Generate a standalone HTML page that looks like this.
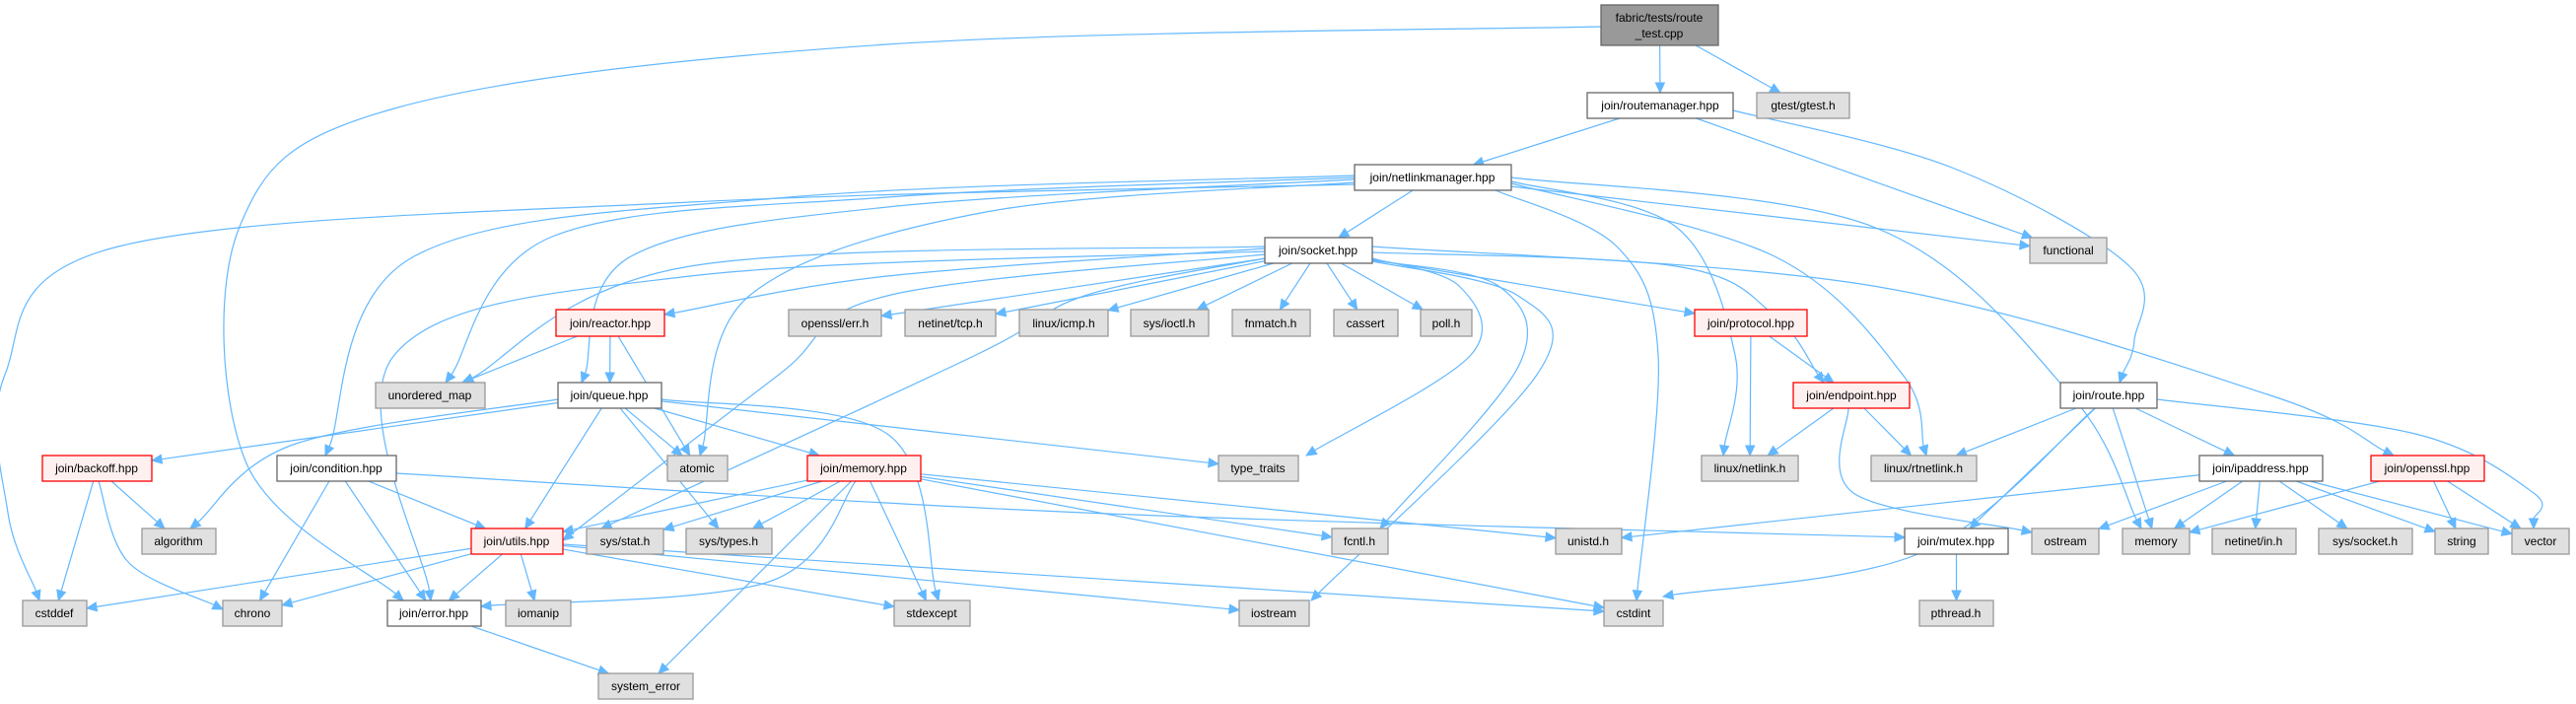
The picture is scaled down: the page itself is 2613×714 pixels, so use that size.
<!DOCTYPE html>
<html><head><meta charset="utf-8">
<style>
html,body{margin:0;padding:0;background:#fff;}
svg{display:block;}
text{font-family:"Liberation Sans",Arial,sans-serif;font-size:12px;fill:#000;}
.g rect{fill:#e0e0e0;stroke:#999;stroke-width:1.3;}
.w rect{fill:#fff;stroke:#666;stroke-width:1.3;}
.r rect{fill:#fff0f0;stroke:#f00;stroke-width:1.3;}
.d rect{fill:#999;stroke:#666;stroke-width:1.3;}
</style></head><body>
<svg id="s" width="2613" height="714" viewBox="0 0 2613 714" xmlns="http://www.w3.org/2000/svg">
<g id="edges"></g>
<g id="nodes">
<g class="d"><rect x="1624" y="5" width="119" height="41"/><text x="1683" y="22" text-anchor="middle">fabric/tests/route</text><text x="1683" y="38" text-anchor="middle">_test.cpp</text></g>
<g class="w"><rect x="1610" y="94" width="148" height="26"/><text x="1684" y="111" text-anchor="middle">join/routemanager.hpp</text></g>
<g class="g"><rect x="1782" y="94" width="94" height="26"/><text x="1829" y="111" text-anchor="middle">gtest/gtest.h</text></g>
<g class="w"><rect x="1374" y="167" width="159" height="26"/><text x="1453" y="184" text-anchor="middle">join/netlinkmanager.hpp</text></g>
<g class="w"><rect x="1283" y="241" width="109" height="26"/><text x="1337" y="258" text-anchor="middle">join/socket.hpp</text></g>
<g class="g"><rect x="2059" y="241" width="78" height="26"/><text x="2098" y="258" text-anchor="middle">functional</text></g>
<g class="r"><rect x="564" y="314" width="110" height="27"/><text x="619" y="332" text-anchor="middle">join/reactor.hpp</text></g>
<g class="g"><rect x="800" y="314" width="94" height="27"/><text x="847" y="332" text-anchor="middle">openssl/err.h</text></g>
<g class="g"><rect x="918" y="314" width="92" height="27"/><text x="964" y="332" text-anchor="middle">netinet/tcp.h</text></g>
<g class="g"><rect x="1034" y="314" width="90" height="27"/><text x="1079" y="332" text-anchor="middle">linux/icmp.h</text></g>
<g class="g"><rect x="1147" y="314" width="79" height="27"/><text x="1186" y="332" text-anchor="middle">sys/ioctl.h</text></g>
<g class="g"><rect x="1250" y="314" width="79" height="27"/><text x="1289" y="332" text-anchor="middle">fnmatch.h</text></g>
<g class="g"><rect x="1353" y="314" width="65" height="27"/><text x="1385" y="332" text-anchor="middle">cassert</text></g>
<g class="g"><rect x="1441" y="314" width="52" height="27"/><text x="1467" y="332" text-anchor="middle">poll.h</text></g>
<g class="r"><rect x="1719" y="314" width="114" height="27"/><text x="1776" y="332" text-anchor="middle">join/protocol.hpp</text></g>
<g class="g"><rect x="381" y="388" width="111" height="26"/><text x="436" y="405" text-anchor="middle">unordered_map</text></g>
<g class="w"><rect x="566" y="388" width="105" height="26"/><text x="618" y="405" text-anchor="middle">join/queue.hpp</text></g>
<g class="r"><rect x="1819" y="388" width="118" height="26"/><text x="1878" y="405" text-anchor="middle">join/endpoint.hpp</text></g>
<g class="w"><rect x="2090" y="388" width="98" height="26"/><text x="2139" y="405" text-anchor="middle">join/route.hpp</text></g>
<g class="r"><rect x="43" y="462" width="111" height="26"/><text x="98" y="479" text-anchor="middle">join/backoff.hpp</text></g>
<g class="w"><rect x="281" y="462" width="121" height="26"/><text x="341" y="479" text-anchor="middle">join/condition.hpp</text></g>
<g class="g"><rect x="677" y="462" width="61" height="26"/><text x="707" y="479" text-anchor="middle">atomic</text></g>
<g class="r"><rect x="819" y="462" width="115" height="26"/><text x="876" y="479" text-anchor="middle">join/memory.hpp</text></g>
<g class="g"><rect x="1236" y="462" width="81" height="26"/><text x="1276" y="479" text-anchor="middle">type_traits</text></g>
<g class="g"><rect x="1726" y="462" width="98" height="26"/><text x="1775" y="479" text-anchor="middle">linux/netlink.h</text></g>
<g class="g"><rect x="1898" y="462" width="107" height="26"/><text x="1951" y="479" text-anchor="middle">linux/rtnetlink.h</text></g>
<g class="w"><rect x="2231" y="462" width="125" height="26"/><text x="2293" y="479" text-anchor="middle">join/ipaddress.hpp</text></g>
<g class="r"><rect x="2405" y="462" width="115" height="26"/><text x="2462" y="479" text-anchor="middle">join/openssl.hpp</text></g>
<g class="g"><rect x="144" y="536" width="75" height="26"/><text x="181" y="553" text-anchor="middle">algorithm</text></g>
<g class="r"><rect x="478" y="536" width="93" height="26"/><text x="524" y="553" text-anchor="middle">join/utils.hpp</text></g>
<g class="g"><rect x="595" y="536" width="78" height="26"/><text x="634" y="553" text-anchor="middle">sys/stat.h</text></g>
<g class="g"><rect x="696" y="536" width="87" height="26"/><text x="739" y="553" text-anchor="middle">sys/types.h</text></g>
<g class="g"><rect x="1351" y="536" width="57" height="26"/><text x="1379" y="553" text-anchor="middle">fcntl.h</text></g>
<g class="g"><rect x="1578" y="536" width="67" height="26"/><text x="1611" y="553" text-anchor="middle">unistd.h</text></g>
<g class="w"><rect x="1932" y="536" width="105" height="26"/><text x="1984" y="553" text-anchor="middle">join/mutex.hpp</text></g>
<g class="g"><rect x="2061" y="536" width="68" height="26"/><text x="2095" y="553" text-anchor="middle">ostream</text></g>
<g class="g"><rect x="2153" y="536" width="68" height="26"/><text x="2187" y="553" text-anchor="middle">memory</text></g>
<g class="g"><rect x="2244" y="536" width="85" height="26"/><text x="2286" y="553" text-anchor="middle">netinet/in.h</text></g>
<g class="g"><rect x="2352" y="536" width="95" height="26"/><text x="2399" y="553" text-anchor="middle">sys/socket.h</text></g>
<g class="g"><rect x="2470" y="536" width="54" height="26"/><text x="2497" y="553" text-anchor="middle">string</text></g>
<g class="g"><rect x="2548" y="536" width="58" height="26"/><text x="2577" y="553" text-anchor="middle">vector</text></g>
<g class="g"><rect x="23" y="609" width="65" height="26"/><text x="55" y="626" text-anchor="middle">cstddef</text></g>
<g class="g"><rect x="226" y="609" width="60" height="26"/><text x="256" y="626" text-anchor="middle">chrono</text></g>
<g class="w"><rect x="393" y="609" width="95" height="26"/><text x="440" y="626" text-anchor="middle">join/error.hpp</text></g>
<g class="g"><rect x="513" y="609" width="66" height="26"/><text x="546" y="626" text-anchor="middle">iomanip</text></g>
<g class="g"><rect x="907" y="609" width="77" height="26"/><text x="945" y="626" text-anchor="middle">stdexcept</text></g>
<g class="g"><rect x="1257" y="609" width="71" height="26"/><text x="1292" y="626" text-anchor="middle">iostream</text></g>
<g class="g"><rect x="1627" y="609" width="60" height="26"/><text x="1657" y="626" text-anchor="middle">cstdint</text></g>
<g class="g"><rect x="1947" y="609" width="75" height="26"/><text x="1984" y="626" text-anchor="middle">pthread.h</text></g>
<g class="g"><rect x="607" y="683" width="96" height="26"/><text x="655" y="700" text-anchor="middle">system_error</text></g>
</g>
</svg>
<script>
var N={fab:[1624,5,1743,46],rm:[1610,94,1758,120],gt:[1782,94,1876,120],nm:[1374,167,1533,193],sock:[1283,241,1392,267],func:[2059,241,2137,267],
re:[564,314,674,341],oerr:[800,314,894,341],tcp:[918,314,1010,341],icmp:[1034,314,1124,341],ioctl:[1147,314,1226,341],fnm:[1250,314,1329,341],cas:[1353,314,1418,341],poll:[1441,314,1493,341],prot:[1719,314,1833,341],
um:[381,388,492,414],q:[566,388,671,414],ep:[1819,388,1937,414],route:[2090,388,2188,414],
bo:[43,462,154,488],cond:[281,462,402,488],at:[677,462,738,488],mem:[819,462,934,488],tt:[1236,462,1317,488],nl:[1726,462,1824,488],rtnl:[1898,462,2005,488],ip:[2231,462,2356,488],ossl:[2405,462,2520,488],
alg:[144,536,219,562],ut:[478,536,571,562],stat:[595,536,673,562],types:[696,536,783,562],fcntl:[1351,536,1408,562],unistd:[1578,536,1645,562],mutex:[1932,536,2037,562],ost:[2061,536,2129,562],memo:[2153,536,2221,562],nin:[2244,536,2329,562],ssock:[2352,536,2447,562],str:[2470,536,2524,562],vec:[2548,536,2606,562],
cstddef:[23,609,88,635],chrono:[226,609,286,635],err:[393,609,488,635],iom:[513,609,579,635],stdex:[907,609,984,635],ios:[1257,609,1328,635],cint:[1627,609,1687,635],pth:[1947,609,2022,635],syserr:[607,683,703,709]};
var E=[
["fab","rm"],["fab","gt"],["fab","err",[[1624,27],[900,45],[400,110],[243,230],[250,470],[409,609]]],
["rm","nm"],["rm","func"],["rm","route",[[1758,112],[1980,170],[2160,270],[2165,345],[2150,388]]],
["nm","sock"],["nm","cstddef",[[1374,187],[700,205],[120,250],[5,380],[8,520],[40,609]]],
["nm","um",[[1374,180],[900,200],[560,240],[452,388]]],
["nm","q",[[1374,182],[900,210],[640,260],[590,388]]],
["nm","cond",[[1374,178],[800,200],[420,260],[330,462]]],
["nm","at",[[1374,185],[1000,215],[760,300],[710,462]]],
["nm","cint",[[1517,193],[1640,250],[1682,360],[1660,609]]],
["nm","memo",[[1533,180],[1900,230],[2100,400],[2172,536]]],
["nm","func"],["nm","nl",[[1533,184],[1700,230],[1760,360],[1748,462]]],
["nm","rtnl",[[1533,186],[1800,260],[1930,380],[1954,462]]],
["sock","re",[[1283,252],[900,280],[674,319]]],["sock","oerr"],["sock","tcp"],["sock","icmp"],["sock","ioctl"],["sock","fnm"],["sock","cas"],["sock","poll"],["sock","prot"],
["sock","ep",[[1392,256],[1700,270],[1800,320],[1850,388]]],
["sock","ossl",[[1392,250],[1900,290],[2300,400],[2428,462]]],
["sock","tt",[[1392,262],[1480,290],[1492,360],[1325,462]]],
["sock","fcntl",[[1392,264],[1520,290],[1541,370],[1400,536]]],
["sock","ios",[[1392,265],[1540,300],[1559,380],[1330,609]]],
["sock","stat",[[1283,262],[1100,300],[990,360],[610,536]]],
["sock","ut",[[1283,258],[900,300],[790,380],[571,548]]],
["sock","err",[[1283,255],[700,280],[400,360],[437,609]]],
["sock","um",[[1283,250],[700,270],[470,388]]],
["re","um"],["re","q"],["re","at"],
["q","bo"],["q","alg",[[566,405],[300,450],[193,536]]],["q","ut"],["q","at"],["q","types"],["q","mem"],["q","tt"],["q","stdex",[[671,405],[900,440],[952,609]]],
["bo","cstddef"],["bo","chrono",[[100,488],[130,570],[226,618]]],["bo","alg"],
["cond","ut"],["cond","chrono"],["cond","err"],["cond","mutex",[[402,480],[1100,520],[1932,545]]],
["mem","ut"],["mem","stat"],["mem","types"],["mem","err",[[868,488],[780,590],[488,615]]],["mem","syserr"],["mem","stdex"],["mem","fcntl"],["mem","unistd"],["mem","cint"],
["ut","cstddef"],["ut","chrono"],["ut","err"],["ut","iom"],["ut","stdex"],["ut","ios"],["ut","cint"],
["err","syserr"],
["prot","nl"],["prot","ep"],
["ep","nl"],["ep","rtnl"],["ep","ost",[[1875,414],[1880,500],[2061,540]]],
["route","rtnl"],["route","memo"],["route","mutex"],["route","cint",[[2125,414],[1950,560],[1687,605]]],["route","ip"],["route","vec",[[2188,405],[2450,440],[2570,500],[2570,536]]],
["ip","unistd"],["ip","ost"],["ip","memo"],["ip","nin"],["ip","ssock"],["ip","str"],["ip","vec"],
["ossl","memo"],["ossl","str"],["ossl","vec"],
["mutex","pth"]
];
function C(b){return[(b[0]+b[2])/2,(b[1]+b[3])/2];}
function clip(b,to){var c=C(b),dx=to[0]-c[0],dy=to[1]-c[1],hw=(b[2]-b[0])/2,hh=(b[3]-b[1])/2;var t=Math.min(dx?hw/Math.abs(dx):1e9,dy?hh/Math.abs(dy):1e9);return[c[0]+dx*t,c[1]+dy*t];}
var out="";
E.forEach(function(e){
 var s=N[e[0]],t=N[e[1]],P;
 if(e[2])P=e[2].map(function(p){return p.slice();});
 else P=[clip(s,C(t)),clip(t,C(s))];
 var n=P.length,a=P[n-1],b=P[n-2];
 var dx=a[0]-b[0],dy=a[1]-b[1],L=Math.sqrt(dx*dx+dy*dy)||1,ux=dx/L,uy=dy/L;
 var bx=a[0]-ux*10,by=a[1]-uy*10;
 P[n-1]=[bx,by];
 var d="M"+P[0][0]+","+P[0][1];
 for(var i=0;i<n-1;i++){
  var p0=P[i-1]||P[i],p1=P[i],p2=P[i+1],p3=P[i+2]||P[i+1];
  var c1=[p1[0]+(p2[0]-p0[0])/6,p1[1]+(p2[1]-p0[1])/6],c2=[p2[0]-(p3[0]-p1[0])/6,p2[1]-(p3[1]-p1[1])/6];
  d+=" C"+c1[0].toFixed(1)+","+c1[1].toFixed(1)+" "+c2[0].toFixed(1)+","+c2[1].toFixed(1)+" "+p2[0].toFixed(1)+","+p2[1].toFixed(1);
 }
 out+='<path d="'+d+'" fill="none" stroke="#63b8ff" stroke-width="1.2"/>';
 var px=-uy,py=ux;
 out+='<polygon points="'+a[0]+","+a[1]+" "+(bx+px*4.5).toFixed(1)+","+(by+py*4.5).toFixed(1)+" "+(bx-px*4.5).toFixed(1)+","+(by-py*4.5).toFixed(1)+'" fill="#63b8ff" stroke="#63b8ff"/>';
});
document.getElementById("edges").innerHTML=out;
</script>
</body></html>
